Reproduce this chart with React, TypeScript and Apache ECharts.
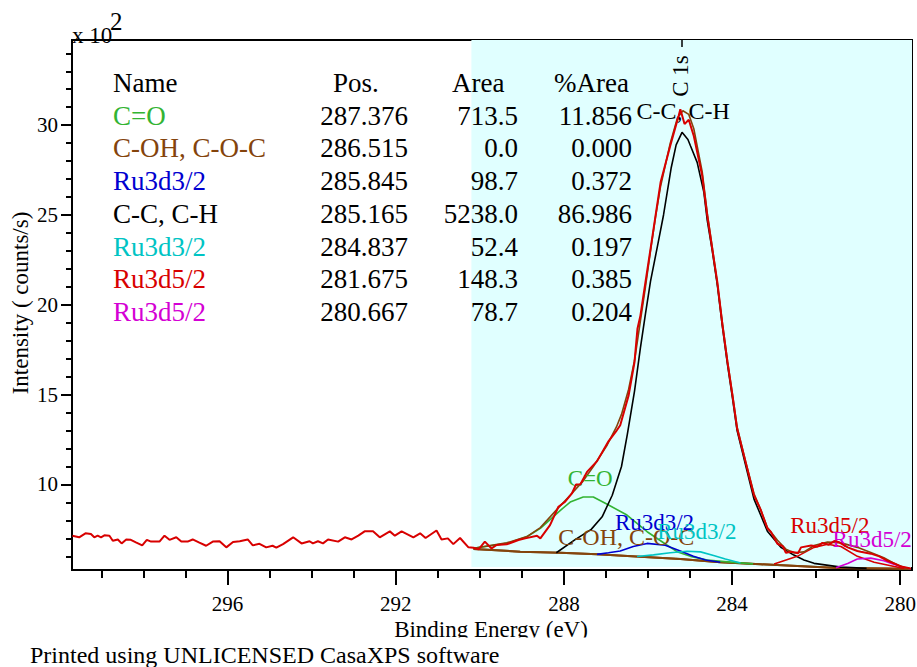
import React, { useEffect, useRef } from "react";
import * as echarts from "echarts";

// ---------- axis ranges and ticks ----------
const X_MIN = 279.72;
const X_MAX = 299.7;
const Y_MIN = 5.24;
const Y_MAX = 34.74;
const xMajorTicks = [280, 284, 288, 292, 296];
const xMinorTicks = [280, 281, 282, 283, 284, 285, 286, 287, 288, 289, 290, 291, 292, 293, 294, 295, 296, 297, 298, 299];
const yMajorTicks = [10, 15, 20, 25, 30];
const yMinorTicks = [6, 7, 8, 9, 10, 11, 12, 13, 14, 15, 16, 17, 18, 19, 20, 21, 22, 23, 24, 25, 26, 27, 28, 29, 30, 31, 32, 33, 34];
const regionStart = 290.2;

// ---------- table ----------
const compNames = ["C=O", "C-OH, C-O-C", "Ru3d3/2", "C-C, C-H", "Ru3d3/2", "Ru3d5/2", "Ru3d5/2"];
const compPos = [287.376, 286.515, 285.845, 285.165, 284.837, 281.675, 280.667];
const compArea = [713.5, 0.0, 98.7, 5238.0, 52.4, 148.3, 78.7];
const compPct = [11.856, 0.0, 0.372, 86.986, 0.197, 0.385, 0.204];
const compLabelY = [10.36, 7.08, 7.86, 30.79, 7.36, 7.69, 6.91];

// ---------- spectrum (Binding energy eV, counts/s x 10^2) ----------
const rawData: [number, number][] = [
  [299.69, 7.15], [299.53, 7.06], [299.38, 7.28], [299.25, 7.24], [299.17, 7.06], [299.09, 7.15], [299.01, 7.06],
  [298.93, 7.17], [298.81, 7.15], [298.73, 6.87], [298.61, 6.94], [298.52, 6.72], [298.41, 6.94], [298.3, 6.92],
  [298.18, 6.78], [298.03, 6.61], [297.92, 6.92], [297.82, 6.82], [297.62, 6.82], [297.5, 7.15], [297.38, 6.92],
  [297.22, 7.06], [297.1, 6.82], [296.95, 6.82], [296.83, 6.94], [296.67, 6.76], [296.51, 6.59], [296.35, 6.82],
  [296.19, 6.84], [296.03, 6.5], [295.87, 6.8], [295.71, 6.84], [295.52, 6.94], [295.4, 6.61], [295.24, 6.7],
  [295.08, 6.5], [294.93, 6.59], [294.84, 6.48], [294.68, 6.68], [294.44, 7.06], [294.24, 6.72], [294.05, 6.84],
  [293.97, 6.72], [293.85, 6.84], [293.73, 6.72], [293.61, 6.94], [293.37, 6.82], [293.21, 7.06], [293.05, 6.94],
  [292.89, 7.15], [292.74, 7.39], [292.54, 7.39], [292.38, 7.06], [292.14, 7.39], [292.02, 7.15], [291.86, 7.39],
  [291.58, 7.06], [291.42, 7.28], [291.29, 7.02], [291.03, 7.44], [290.91, 6.94], [290.76, 7.0], [290.63, 6.68],
  [290.47, 7.02], [290.27, 6.5], [290.15, 6.48], [290.03, 6.39], [289.88, 6.82], [289.72, 6.44], [289.6, 6.63],
  [289.36, 6.67], [289.08, 6.91], [288.92, 7.0], [288.64, 7.15], [288.56, 7.0], [288.33, 7.74], [288.13, 8.76],
  [287.97, 9.04], [287.81, 9.5], [287.71, 10.0], [287.61, 10.0], [287.45, 10.7], [287.21, 11.3], [286.94, 12.4],
  [286.76, 12.95], [286.66, 13.3], [286.46, 14.96], [286.32, 16.82], [286.25, 18.67], [286.18, 19.4], [286.06, 21.26],
  [285.94, 23.1], [285.82, 24.96], [285.7, 26.82], [285.47, 28.85], [285.27, 30.52], [285.23, 30.89], [285.13, 30.06],
  [285.03, 30.3], [284.91, 29.4], [284.71, 27.18], [284.59, 24.96], [284.47, 23.1], [284.35, 21.26], [284.23, 18.9],
  [284.11, 16.82], [283.99, 14.96], [283.88, 13.11], [283.68, 11.26], [283.48, 9.41], [283.32, 8.6], [283.16, 7.56],
  [283.08, 7.37], [282.92, 6.7], [282.79, 6.55], [282.72, 6.2], [282.59, 6.26], [282.43, 6.17], [282.36, 6.5],
  [282.12, 6.6], [281.97, 6.55], [281.85, 6.75], [281.7, 6.65], [281.57, 6.85], [281.45, 6.78], [281.25, 6.5],
  [281.02, 6.3], [280.94, 6.26], [280.7, 6.15], [280.5, 6.0], [280.3, 5.75], [280.14, 5.6], [279.98, 5.43], [279.75, 5.33],
];

const bgData: [number, number][] = [
  [290.15, 6.41], [289.04, 6.26], [288.09, 6.2], [287.21, 6.11], [286.18, 5.98], [285.23, 5.85], [284.28, 5.67],
  [283.32, 5.56], [282.45, 5.46], [281.49, 5.35], [280.3, 5.33], [279.75, 5.3],
];

const cohData: [number, number][] = [
  [290.15, 6.41], [289.04, 6.26], [288.09, 6.2], [287.21, 6.11], [286.18, 5.98], [285.23, 5.85], [284.28, 5.67],
  [283.32, 5.56], [282.45, 5.46], [281.49, 5.35], [280.3, 5.33], [279.75, 5.3],
];

const coData: [number, number][] = [
  [290.15, 6.45], [289.36, 6.72], [288.88, 7.09], [288.56, 7.56], [288.09, 8.55], [287.85, 9.02], [287.54, 9.3],
  [287.3, 9.3], [286.97, 8.9], [286.5, 8.3], [286.02, 7.37], [285.55, 6.63], [285.31, 6.26], [284.99, 6.0],
  [284.59, 5.8], [284.04, 5.68], [283.5, 5.58],
];

const ru33aData: [number, number][] = [
  [287.21, 6.11], [286.94, 6.2], [286.66, 6.3], [286.35, 6.55], [286.02, 6.72], [285.59, 6.62], [285.23, 6.3],
  [284.92, 6.0], [284.63, 5.8], [284.28, 5.67],
];

const ru33bData: [number, number][] = [
  [286.26, 5.99], [285.87, 6.08], [285.47, 6.2], [285.07, 6.28], [284.75, 6.25], [284.44, 6.05], [284.16, 5.85],
  [283.8, 5.63],
];

const ccData: [number, number][] = [
  [288.18, 6.2], [287.75, 6.9], [287.35, 7.5], [287.09, 8.2], [286.85, 9.4], [286.63, 11.0], [286.49, 12.8],
  [286.32, 15.2], [286.18, 17.6], [286.06, 19.5], [285.94, 21.3], [285.78, 23.2], [285.63, 25.0], [285.45, 27.6],
  [285.33, 28.9], [285.19, 29.6], [285.05, 29.2], [284.99, 28.85], [284.83, 27.93], [284.67, 26.26], [284.59, 24.7],
  [284.47, 23.0], [284.35, 21.1], [284.23, 18.8], [284.11, 16.7], [283.99, 14.8], [283.88, 13.0], [283.68, 11.1],
  [283.48, 9.2], [283.32, 8.3], [283.16, 7.4], [282.84, 6.5], [282.53, 6.07], [282.29, 5.8], [282.05, 5.61],
  [281.41, 5.4], [280.8, 5.33],
];

const ru35aData: [number, number][] = [
  [283.0, 5.58], [282.45, 6.0], [282.05, 6.5], [281.73, 6.67], [281.41, 6.55], [281.02, 6.0], [280.62, 5.67],
  [280.14, 5.43], [279.91, 5.33],
];

const ru35bData: [number, number][] = [
  [281.53, 5.36], [281.25, 5.6], [281.02, 5.85], [280.7, 5.9], [280.39, 5.75], [280.14, 5.55], [279.98, 5.43],
  [279.75, 5.3],
];

const envData: [number, number][] = [
  [290.15, 6.45], [289.36, 6.75], [288.88, 7.1], [288.56, 7.6], [288.17, 8.6], [287.85, 9.4], [287.54, 10.2],
  [287.3, 11.0], [286.97, 12.2], [286.75, 13.2], [286.63, 13.9], [286.46, 15.3], [286.32, 16.9], [286.18, 19.1],
  [286.06, 21.0], [285.94, 23.0], [285.82, 24.9], [285.7, 26.6], [285.47, 29.0], [285.3, 30.4], [285.17, 30.8],
  [285.03, 30.6], [284.91, 29.8], [284.71, 27.4], [284.59, 25.1], [284.47, 23.2], [284.35, 21.2], [284.23, 19.0],
  [284.11, 16.9], [283.99, 15.0], [283.88, 13.2], [283.68, 11.3], [283.48, 9.5], [283.32, 8.6], [283.16, 7.6],
  [282.92, 6.9], [282.72, 6.4], [282.53, 6.2], [282.29, 6.25], [282.05, 6.6], [281.73, 6.8], [281.41, 6.75],
  [281.02, 6.5], [280.7, 6.22], [280.39, 5.92], [280.14, 5.6], [279.91, 5.38], [279.75, 5.3],
];

// ---------- styles ----------
const FONT = "'Liberation Serif', 'Times New Roman', serif";
const RED = "#d80000";
const GREEN = "#33b433";
const BROWN = "#84440c";
const BLUE = "#0000d0";
const CYAN = "#00c4c4";
const MAGENTA = "#d400d4";
const BLACK = "#000000";
const compColors = [GREEN, BROWN, BLUE, BLACK, CYAN, RED, MAGENTA];

function labelPoint(i: number, size: number) {
  return {
    symbol: "circle",
    symbolSize: 0,
    silent: true,
    label: {
      show: true,
      position: "inside",
      formatter: compNames[i],
      color: compColors[i],
      fontSize: size,
      fontFamily: FONT,
    },
    data: [{ coord: [compPos[i], compLabelY[i]] }],
  };
}

function lineSeries(name: string, data: [number, number][], color: string, width: number, z: number, extra: any = {}) {
  return {
    name,
    type: "line",
    data,
    symbol: "none",
    showSymbol: false,
    silent: true,
    z,
    lineStyle: { color, width },
    itemStyle: { color },
    ...extra,
  };
}

function buildOption() {
  const rowY0 = 83;
  const rowGap = 32.7;
  const tFont = 27;
  const graphics: any[] = [];
  const txt = (text: string, x: number, y: number, size: number, color: string, align: string, extra: any = {}) => ({
    type: "text",
    x,
    y,
    z: 50,
    silent: true,
    ...extra,
    style: {
      text,
      fill: color,
      fontSize: size,
      fontFamily: FONT,
      align,
      textAlign: align,
      verticalAlign: "middle",
      textVerticalAlign: "middle",
    },
  });
  graphics.push(txt("Name", 113, rowY0, tFont, BLACK, "left"));
  graphics.push(txt("Pos.", 333, rowY0, tFont, BLACK, "left"));
  graphics.push(txt("Area", 452, rowY0, tFont, BLACK, "left"));
  graphics.push(txt("%Area", 554, rowY0, tFont, BLACK, "left"));
  compNames.forEach((n, i) => {
    const y = rowY0 + rowGap * (i + 1);
    graphics.push(txt(n, 113, y, tFont, compColors[i], "left"));
    graphics.push(txt(compPos[i].toFixed(3), 408, y, tFont, BLACK, "right"));
    graphics.push(txt(compArea[i].toFixed(1), 518, y, tFont, BLACK, "right"));
    graphics.push(txt(compPct[i].toFixed(3), 632, y, tFont, BLACK, "right"));
  });
  // exponent
  graphics.push(txt("x 10", 72, 35, 23, BLACK, "left"));
  graphics.push(txt("2", 110, 21, 25, BLACK, "left"));
  // y axis title
  graphics.push(txt("Intensity ( counts/s)", 20, 303, 23, BLACK, "center", { rotation: Math.PI / 2 }));
  // x axis title (clipped at bottom)
  graphics.push(txt("Binding Energy (eV)", 491, 629, 23, BLACK, "center"));
  graphics.push({
    type: "rect",
    z: 60,
    silent: true,
    shape: { x: 300, y: 637.5, width: 400, height: 8 },
    style: { fill: "#ffffff" },
  });
  graphics.push({ ...txt("Printed using UNLICENSED CasaXPS software", 30, 655, 24, BLACK, "left"), z: 70 });
  // C 1s marker
  graphics.push({
    type: "line",
    z: 50,
    silent: true,
    shape: { x1: 682, y1: 40, x2: 682, y2: 47 },
    style: { stroke: BLACK, lineWidth: 1.5 },
  });
  graphics.push(txt("C 1s", 680, 76, 23, BLACK, "center", { rotation: Math.PI / 2 }));

  const axisCommon = {
    type: "value",
    splitLine: { show: false },
  };

  return {
    animation: false,
    backgroundColor: "#ffffff",
    textStyle: { fontFamily: FONT },
    grid: {
      left: 72,
      top: 40,
      width: 840,
      height: 530,
      show: true,
      borderColor: "#000",
      borderWidth: 2,
      backgroundColor: "transparent",
      containLabel: false,
      outerBoundsMode: "none",
    },
    xAxis: [
      {
        ...axisCommon,
        min: X_MIN,
        max: X_MAX,
        inverse: true,
        position: "bottom",
        axisLine: { show: true, onZero: false, lineStyle: { color: "#000", width: 2 } },
        axisTick: { show: true, customValues: xMajorTicks, length: 15, lineStyle: { color: "#000", width: 2 } },
        axisLabel: {
          show: true,
          customValues: xMajorTicks,
          color: "#000",
          fontSize: 21,
          fontFamily: FONT,
          margin: 23,
          showMinLabel: true,
          showMaxLabel: true,
        },
      },
      {
        ...axisCommon,
        min: X_MIN,
        max: X_MAX,
        inverse: true,
        position: "bottom",
        axisLine: { show: false, onZero: false },
        axisTick: { show: true, customValues: xMinorTicks, length: 8, lineStyle: { color: "#000", width: 2 } },
        axisLabel: { show: false },
      },
    ],
    yAxis: [
      {
        ...axisCommon,
        min: Y_MIN,
        max: Y_MAX,
        position: "left",
        axisLine: { show: true, onZero: false, lineStyle: { color: "#000", width: 2 } },
        axisTick: { show: true, customValues: yMajorTicks, length: 11, lineStyle: { color: "#000", width: 2 } },
        axisLabel: {
          show: true,
          customValues: yMajorTicks,
          color: "#000",
          fontSize: 21,
          fontFamily: FONT,
          margin: 14,
        },
      },
      {
        ...axisCommon,
        min: Y_MIN,
        max: Y_MAX,
        position: "left",
        axisLine: { show: false, onZero: false },
        axisTick: { show: true, customValues: yMinorTicks, length: 6, lineStyle: { color: "#000", width: 2 } },
        axisLabel: { show: false },
      },
    ],
    series: [
      {
        name: "region",
        type: "line",
        data: [],
        z: 0,
        silent: true,
        markArea: {
          silent: true,
          itemStyle: { color: "#e0ffff" },
          data: [[{ xAxis: regionStart, yAxis: 5.41 }, { xAxis: X_MIN, yAxis: Y_MAX }]],
        },
      },
      lineSeries("background", bgData, BROWN, 2, 2),
      lineSeries("C-OH, C-O-C", cohData, BROWN, 2, 2, { markPoint: labelPoint(1, 24) }),
      lineSeries("C=O", coData, GREEN, 1.6, 3, { markPoint: labelPoint(0, 23) }),
      lineSeries("Ru3d3/2 a", ru33aData, BLUE, 1.6, 3, { markPoint: labelPoint(2, 23) }),
      lineSeries("Ru3d3/2 b", ru33bData, CYAN, 1.6, 3, { markPoint: labelPoint(4, 23) }),
      lineSeries("C-C, C-H", ccData, BLACK, 1.6, 3, { markPoint: labelPoint(3, 24) }),
      lineSeries("Ru3d5/2 a", ru35aData, RED, 1.6, 3, { markPoint: labelPoint(5, 23) }),
      lineSeries("Ru3d5/2 b", ru35bData, MAGENTA, 1.6, 3, { markPoint: labelPoint(6, 23) }),
      lineSeries("envelope", envData, BROWN, 1.6, 4),
      lineSeries("raw", rawData, RED, 2, 5),
    ],
    graphic: graphics,
  };
}

export default function App() {
  const ref = useRef<HTMLDivElement>(null);
  useEffect(() => {
    if (!ref.current) return;
    const chart = echarts.init(ref.current, undefined, { renderer: "svg" });
    chart.setOption(buildOption() as any);
    return () => chart.dispose();
  }, []);
  return (
    <div
      ref={ref}
      style={{ position: "fixed", left: 0, top: 0, width: 917, height: 667, background: "#fff" }}
    />
  );
}
